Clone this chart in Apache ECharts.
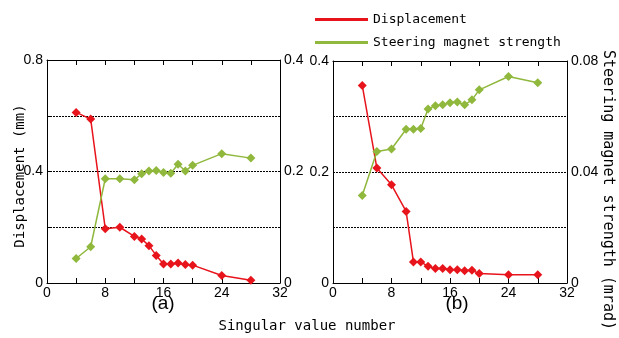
<!DOCTYPE html>
<html>
<head>
<meta charset="utf-8">
<script src="https://cdn.jsdelivr.net/npm/echarts@6/dist/echarts.min.js"></script>
<style>html,body{margin:0;padding:0;background:#fff}#c{width:619px;height:338px}</style>
</head>
<body>
<div id="c"></div>
<script>
// Panel (a)
const xA = [4, 6, 8, 10, 12, 13, 14, 15, 16, 17, 18, 19, 20, 24, 28];
const dispA = [0.612, 0.588, 0.195, 0.200, 0.167, 0.158, 0.134, 0.099, 0.068, 0.068, 0.072, 0.066, 0.064, 0.027, 0.010];
const steerA = [0.044, 0.065, 0.187, 0.187, 0.185, 0.196, 0.201, 0.202, 0.198, 0.197, 0.213, 0.201, 0.211, 0.232, 0.224];
// Panel (b)
const xB = [4, 6, 8, 10, 11, 12, 13, 14, 15, 16, 17, 18, 19, 20, 24, 28];
const dispB = [0.356, 0.207, 0.177, 0.129, 0.038, 0.038, 0.030, 0.026, 0.026, 0.024, 0.024, 0.022, 0.023, 0.017, 0.015, 0.015];
const steerB = [0.0315, 0.0474, 0.0483, 0.0554, 0.0554, 0.0557, 0.0627, 0.0639, 0.0642, 0.0650, 0.0652, 0.0642, 0.0660, 0.0696, 0.0744, 0.0722];

const seriesNames = ['Displacement', 'Steering magnet strength'];
const panelLabels = ['(a)', '(b)'];
const xTitle = 'Singular value number';
const yLeftTitle = 'Displacement (mm)';
const yRightTitle = 'Steering magnet strength (mrad)';

const RED = '#e8141c', GREEN = '#8fb83c';
const MONO = '"DejaVu Sans Mono", "Liberation Mono", monospace';
const SANS = '"Liberation Sans", Arial, sans-serif';

function pairs(xs, ys) { return xs.map((x, i) => [x, ys[i]]); }
function everyOther(step) {
  return v => {
    const k = Math.round(v / step);
    if (Math.abs(v / step - k) > 1e-6) return '';
    return String(parseFloat(v.toFixed(4)));
  };
}
function splitExceptEnds(min, max) {
  return { show: true, lineStyle: { color: '#000', type: [2, 1], width: 1 } };
}

const chart = echarts.init(document.getElementById('c'));
const grids = [
  { left: 47, top: 60, width: 233, height: 223 },
  { left: 333, top: 61, width: 234, height: 222 }
];
const AXLINE = { show: true, onZero: false, lineStyle: { color: '#000', width: 1 } };
const TICK = { show: true, inside: true, length: 5, lineStyle: { color: '#000' } };
const xAxes = [], yAxes = [];
grids.forEach((g, gi) => {
  xAxes.push({
    type: 'value', gridIndex: gi, min: 0, max: 32, interval: 4, position: 'bottom',
    axisLine: AXLINE, axisTick: TICK,
    axisLabel: { color: '#000', fontSize: 14, fontFamily: SANS, margin: 3, formatter: v => (v % 8 === 0 ? String(v) : '') },
    splitLine: { show: false }
  });
  xAxes.push({
    type: 'value', gridIndex: gi, min: 0, max: 32, interval: 4, position: 'top',
    axisLine: AXLINE, axisTick: TICK,
    axisLabel: { show: false }, splitLine: { show: false }
  });
});
const YLBL = { color: '#000', fontSize: 14, fontFamily: SANS, margin: 4 };
yAxes.push({
  type: 'value', gridIndex: 0, min: 0, max: 0.8, interval: 0.2, position: 'left',
  axisLine: AXLINE, axisTick: Object.assign({}, TICK, { length: 4 }),
  axisLabel: Object.assign({}, YLBL, { formatter: everyOther(0.4) }),
  splitLine: splitExceptEnds()
});
yAxes.push({
  type: 'value', gridIndex: 0, min: 0, max: 0.4, interval: 0.1, position: 'right',
  axisLine: AXLINE, axisTick: { show: false },
  axisLabel: Object.assign({}, YLBL, { formatter: everyOther(0.2) }),
  splitLine: { show: false }
});
yAxes.push({
  type: 'value', gridIndex: 1, min: 0, max: 0.4, interval: 0.1, position: 'left',
  axisLine: AXLINE, axisTick: { show: false },
  axisLabel: Object.assign({}, YLBL, { formatter: everyOther(0.2) }),
  splitLine: splitExceptEnds()
});
yAxes.push({
  type: 'value', gridIndex: 1, min: 0, max: 0.08, interval: 0.02, position: 'right',
  axisLine: AXLINE, axisTick: { show: false },
  axisLabel: Object.assign({}, YLBL, { formatter: everyOther(0.04) }),
  splitLine: { show: false }
});

function line(name, color, xi, yi, data) {
  return {
    name, type: 'line', xAxisIndex: xi, yAxisIndex: yi, data,
    symbol: 'diamond', symbolSize: 9, showSymbol: true,
    lineStyle: { color, width: 1.5 }, itemStyle: { color }, animation: false
  };
}

chart.setOption({
  animation: false,
  backgroundColor: '#fff',
  grid: grids,
  xAxis: xAxes,
  yAxis: yAxes,
  legend: {
    data: seriesNames.map(n => ({ name: n, icon: 'rect' })),
    orient: 'vertical', left: 310, top: 8, itemWidth: 53, itemHeight: 3, itemGap: 10,
    textStyle: { color: '#000', fontSize: 13, fontFamily: MONO },
    selectedMode: false
  },
  series: [
    line(seriesNames[0], RED, 0, 0, pairs(xA, dispA)),
    line(seriesNames[1], GREEN, 0, 1, pairs(xA, steerA)),
    line(seriesNames[0], RED, 2, 2, pairs(xB, dispB)),
    line(seriesNames[1], GREEN, 2, 3, pairs(xB, steerB))
  ],
  graphic: [
    { type: 'text', style: { text: xTitle, font: '14px ' + MONO, fill: '#000', textAlign: 'center', textVerticalAlign: 'middle' }, x: 307, y: 326 },
    { type: 'text', style: { text: panelLabels[0], font: '19px ' + SANS, fill: '#000', textAlign: 'center', textVerticalAlign: 'middle' }, x: 163, y: 304 },
    { type: 'text', style: { text: panelLabels[1], font: '19px ' + SANS, fill: '#000', textAlign: 'center', textVerticalAlign: 'middle' }, x: 457, y: 304 },
    { type: 'text', style: { text: yLeftTitle, font: '14px ' + MONO, fill: '#000', textAlign: 'center', textVerticalAlign: 'middle' }, x: 20, y: 176, rotation: Math.PI / 2 },
    { type: 'text', style: { text: yRightTitle, font: '15px ' + MONO, fill: '#000', textAlign: 'center', textVerticalAlign: 'middle' }, x: 608, y: 190, rotation: -Math.PI / 2 }
  ]
});
</script>
</body>
</html>
